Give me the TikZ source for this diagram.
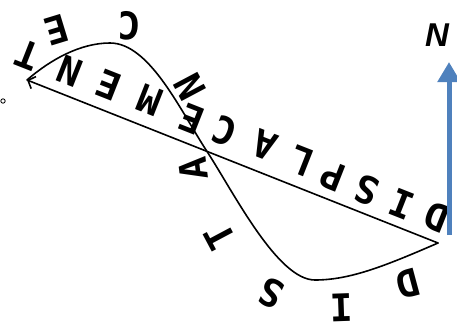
\documentclass[tikz,border=0pt]{standalone}
\usepackage{fontspec}
\newfontfamily\letterfont{DejaVu Sans Mono}
\newfontfamily\labelfont{Liberation Sans}
\usetikzlibrary{arrows.meta}
\definecolor{nblue}{RGB}{79,129,189}
\begin{document}
\begin{tikzpicture}[x=1pt,y=-1pt,
  letter/.style={font=\letterfont\bfseries\fontsize{38}{38}\selectfont, inner sep=0pt},
  dl/.style={letter, rotate=158.5},
  pathline/.style={line width=1.6pt, line cap=round, line join=round}]
\useasboundingbox (0,0) rectangle (457,329);
% key points
\coordinate (start) at (438,243);
\coordinate (tip) at (27,80);
\coordinate (bot) at (315,280);
\coordinate (cross) at (208,153);
\coordinate (top) at (110,43);
% displacement
\draw[pathline, -{Straight Barb[length=6pt,width=13pt]}] (start) -- (tip);
% distance curve
\draw[pathline] (start) .. controls (385,266) and (350,280) .. (bot)
  .. controls (278,280) and (235,195) .. (cross)
  .. controls (181,112) and (150,43) .. (top)
  .. controls (80,43) and (50,60) .. (tip);
% DISPLACEMENT letters
\node[dl] (d1) at (437,217) {D};
\node[dl] (d2) at (402,204) {I};
\node[dl] (d3) at (367,190) {S};
\node[dl] (d4) at (333,176) {P};
\node[dl] (d5) at (302,161) {L};
\node[dl] (d6) at (265,145) {A};
\node[dl] (d7) at (225,131) {C};
\node[dl] (d8) at (192,119) {E};
\node[dl] (d9) at (150,100) {M};
\node[dl] (d10) at (109,85) {E};
\node[dl] (d11) at (70,71) {N};
\node[dl] (d12) at (28,55) {T};
% DISTANCE letters
\node[letter, rotate=195] (s1) at (408,284) {D};
\node[letter, rotate=182] (s2) at (342,308) {I};
\node[letter, rotate=155] (s3) at (271,293) {S};
\node[letter, rotate=118] (s4) at (220,237) {T};
\node[letter, rotate=97] (s5) at (193,169) {A};
\node[letter, rotate=118] (s6) at (190,87) {N};
\node[letter, rotate=178] (s7) at (130,26) {C};
\node[letter, rotate=197] (s8) at (57,30) {E};
% small mark
\draw[line width=0.8pt] (3,101) circle (2.2);
% north arrow
\coordinate (nbase) at (449,235);
\coordinate (ntip) at (449,62);
\draw[nblue, line width=5pt, -{Triangle[length=20pt,width=22pt]}] (nbase) -- (ntip);
\node[font=\labelfont\bfseries\itshape\fontsize{33}{33}\selectfont, inner sep=0pt] (nlabel) at (437,35) {N};
\end{tikzpicture}
\end{document}
